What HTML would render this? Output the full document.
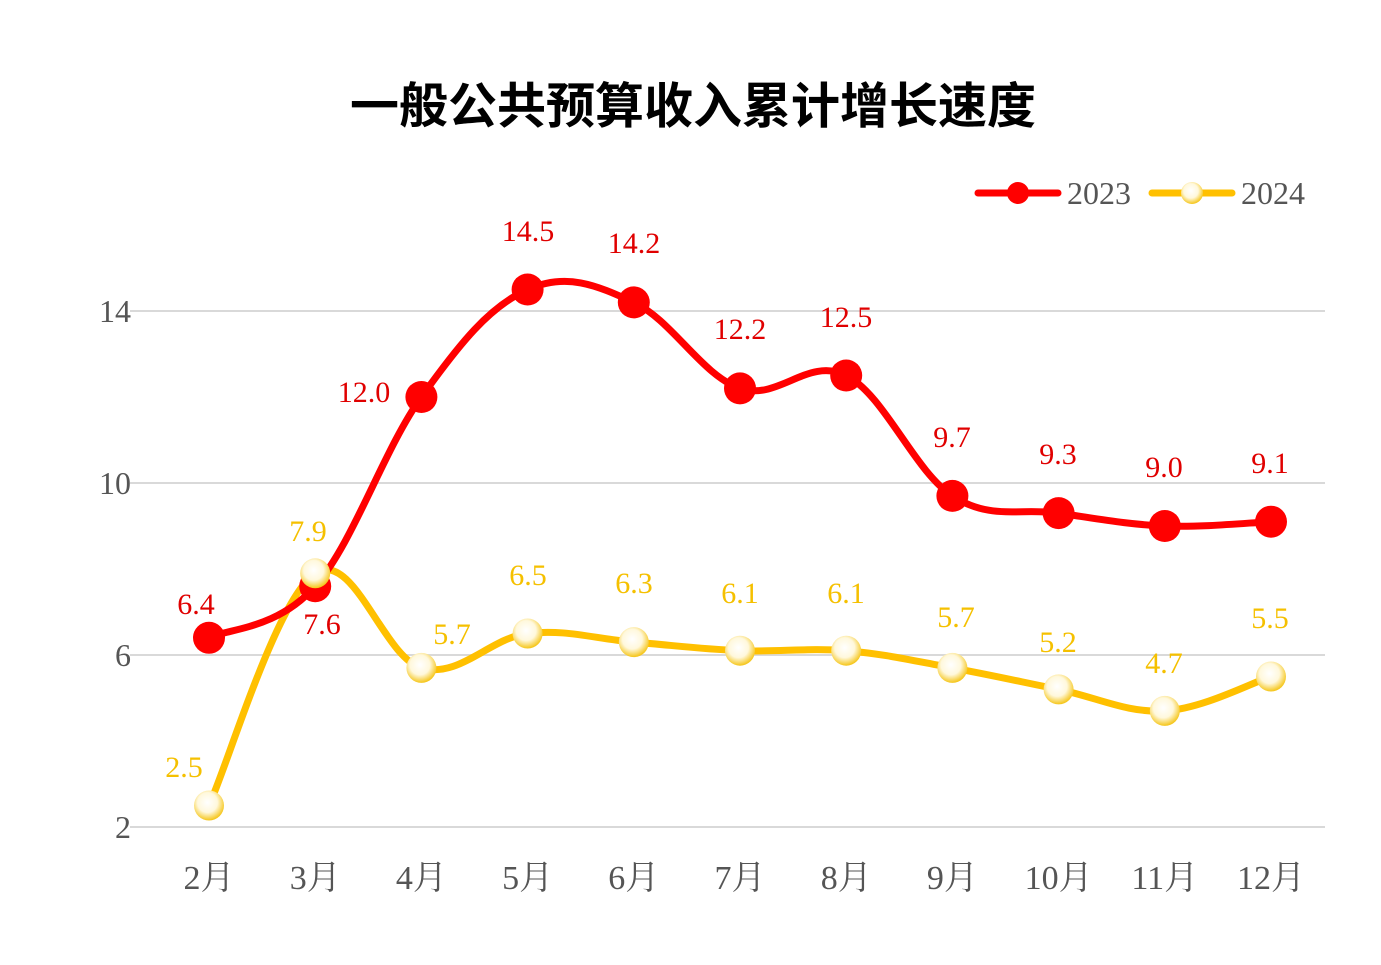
<!DOCTYPE html>
<html><head><meta charset="utf-8"><style>
html,body{margin:0;padding:0;background:#fff;}
svg{display:block;}
text{font-family:"Liberation Serif","Noto Serif CJK SC",serif;}
</style></head><body>
<svg id="s" width="1381" height="965" viewBox="0 0 1381 965" xmlns="http://www.w3.org/2000/svg">
<defs>
<radialGradient id="yg" cx="0.45" cy="0.4" r="0.6">
<stop offset="0" stop-color="#ffffff"/><stop offset="0.55" stop-color="#fff8dc"/><stop offset="1" stop-color="#f5c518"/>
</radialGradient>
</defs>
<text x="693" y="123" text-anchor="middle" font-size="49" font-weight="bold" style="font-family:'Liberation Sans','Noto Sans CJK SC',sans-serif">一般公共预算收入累计增长速度</text>
<g stroke="#d9d9d9" stroke-width="2">
<line x1="130" y1="311" x2="1325" y2="311"/><line x1="130" y1="483" x2="1325" y2="483"/>
<line x1="130" y1="655" x2="1325" y2="655"/><line x1="130" y1="827" x2="1325" y2="827"/>
</g>
<g font-size="32" fill="#555" text-anchor="end">
<text x="131" y="322">14</text><text x="131" y="494">10</text><text x="131" y="666">6</text><text x="131" y="838">2</text>
</g>
<g id="months" font-size="34" fill="#555" text-anchor="middle"></g>
<path id="yp" fill="none" stroke="#ffc000" stroke-width="7" stroke-linecap="round"/>
<path id="rp" fill="none" stroke="#ff0000" stroke-width="7" stroke-linecap="round"/>
<g id="marks"></g>
<g id="labels" font-size="30"></g>
<line x1="978" y1="193" x2="1058" y2="193" stroke="#ff0000" stroke-width="7" stroke-linecap="round"/>
<circle cx="1018" cy="193" r="11" fill="#ff0000"/>
<text x="1067" y="204" font-size="32" fill="#555">2023</text>
<line x1="1152" y1="193" x2="1232" y2="193" stroke="#ffc000" stroke-width="7" stroke-linecap="round"/>
<circle cx="1192" cy="193" r="11" fill="url(#yg)"/>
<text x="1241" y="204" font-size="32" fill="#555">2024</text>
</svg>
<script>
var ns="http://www.w3.org/2000/svg";
function X(i){return 209+i*106.2;}
function Y(v){return 827-(v-2)*43;}
var red=[6.4,7.6,12.0,14.5,14.2,12.2,12.5,9.7,9.3,9.0,9.1];
var yel=[2.5,7.9,5.7,6.5,6.3,6.1,6.1,5.7,5.2,4.7,5.5];
function path(d){var p=d.map(function(v,i){return [X(i),Y(v)];});var s="M"+p[0][0]+","+p[0][1];var t=0.18;
for(var i=0;i<p.length-1;i++){var p0=p[i-1]||p[i],p1=p[i],p2=p[i+1],p3=p[i+2]||p2;
var c1=[p1[0]+(p2[0]-p0[0])*t,p1[1]+(p2[1]-p0[1])*t],c2=[p2[0]-(p3[0]-p1[0])*t,p2[1]-(p3[1]-p1[1])*t];
s+=" C"+c1+" "+c2+" "+p2;}return s;}
document.getElementById("rp").setAttribute("d",path(red));
document.getElementById("yp").setAttribute("d",path(yel));
function el(n,a,par,txt){var e=document.createElementNS(ns,n);for(var k in a)e.setAttribute(k,a[k]);if(txt)e.textContent=txt;document.getElementById(par).appendChild(e);}
var mo=["2月","3月","4月","5月","6月","7月","8月","9月","10月","11月","12月"];
mo.forEach(function(m,i){el("text",{x:X(i),y:889},"months",m);});
red.forEach(function(v,i){el("circle",{cx:X(i),cy:Y(v),r:16,fill:"#ff0000"},"marks");});
yel.forEach(function(v,i){el("circle",{cx:X(i),cy:Y(v),r:15,fill:"url(#yg)"},"marks");});
var rl=[[196,614],[322,634],[364,402],[528,241],[634,253],[740,339],[846,327],[952,447],[1058,464],[1164,477],[1270,473]];
red.forEach(function(v,i){el("text",{x:rl[i][0],y:rl[i][1],fill:"#e00000","text-anchor":"middle"},"labels",v.toFixed(1));});
var yl=[[184,777],[308,541],[452,644],[528,585],[634,593],[740,603],[846,603],[956,627],[1058,652],[1164,673],[1270,628]];
yel.forEach(function(v,i){el("text",{x:yl[i][0],y:yl[i][1],fill:"#f5c000","text-anchor":"middle"},"labels",v.toFixed(1));});
</script>
</body></html>
